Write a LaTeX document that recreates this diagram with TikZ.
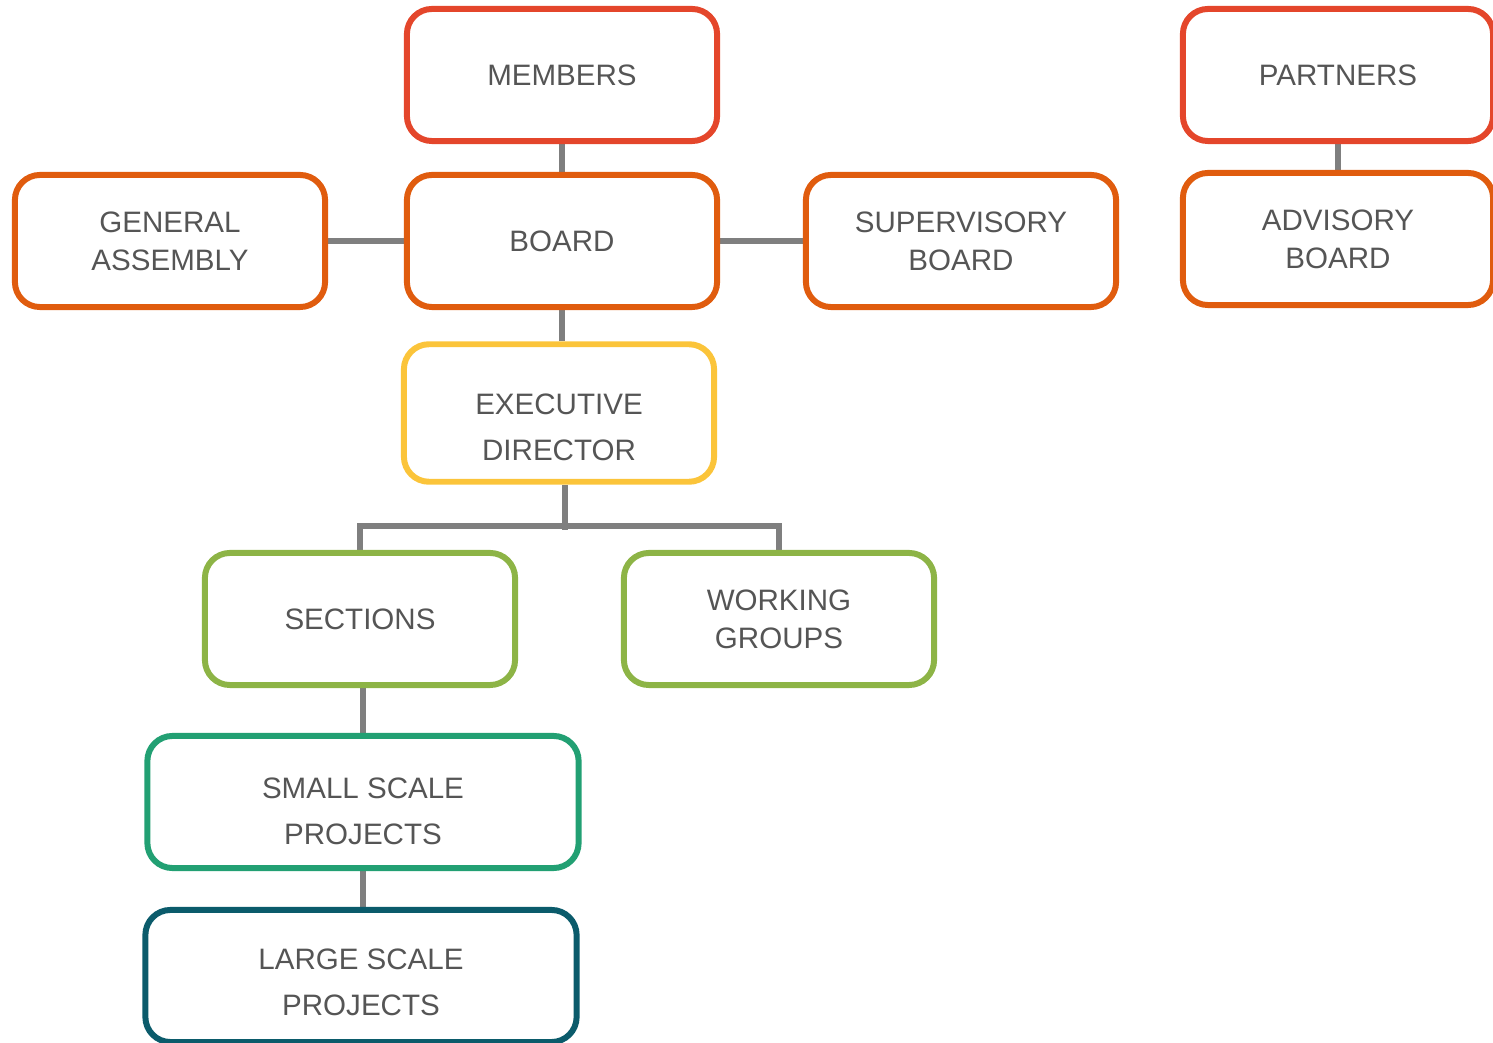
\documentclass[tikz,border=0pt]{standalone}
\usepackage{fontspec}
\setmainfont{Liberation Sans}
\usepackage{tikz}
\usetikzlibrary{backgrounds}
\definecolor{topred}{HTML}{E4462B}
\definecolor{boardorange}{HTML}{E05C0E}
\definecolor{execyellow}{HTML}{FBC43A}
\definecolor{unitgreen}{HTML}{8DB446}
\definecolor{smallgreen}{HTML}{22A073}
\definecolor{largeteal}{HTML}{0B5B6B}
\definecolor{linkgray}{HTML}{7F7F7F}
\definecolor{txtgray}{HTML}{555555}

\begin{document}
\begin{tikzpicture}[x=0.01cm,y=-0.01cm,
  unit/.style={draw=#1,line width=1.7pt,rounded corners=0.25cm,fill=white,
    minimum width=3.1cm,minimum height=1.32cm,align=center,text=txtgray,
    font=\fontsize{8.4}{10.8}\selectfont},
  wide/.style={minimum width=4.31cm},
  loose/.style={font=\fontsize{8.4}{13}\selectfont,text depth=0.1cm,text height=#1},
  link/.style={draw=linkgray,line width=1.7pt}]
\useasboundingbox (0,0) rectangle (1493,1043);
\node [unit=topred] (members) at (562,75) {MEMBERS};
\node [unit=topred] (partners) at (1338,75) {PARTNERS};
\node [unit=boardorange] (assembly) at (170,241) {GENERAL\\ASSEMBLY};
\node [unit=boardorange] (board) at (562,241) {BOARD};
\node [unit=boardorange] (supervisory) at (961,241) {SUPERVISORY\\BOARD};
\node [unit=boardorange] (advisory) at (1338,239) {ADVISORY\\BOARD};
\node [unit=execyellow,loose=1.04cm] (exec) at (559,413) {EXECUTIVE\\DIRECTOR};
\node [unit=unitgreen] (sections) at (360,619) {SECTIONS};
\node [unit=unitgreen] (working) at (779,619) {WORKING\\GROUPS};
\node [unit=smallgreen,wide,loose=0.94cm] (small) at (363,802) {SMALL SCALE\\PROJECTS};
\node [unit=largeteal,wide,loose=0.88cm] (large) at (361,976) {LARGE SCALE\\PROJECTS};
\coordinate (fork) at (565,526);
\begin{scope}[on background layer]
\draw [link] (members) -- (board);
\draw [link] (assembly) -- (board);
\draw [link] (board) -- (supervisory);
\draw [link] (partners) -- (advisory);
\draw [link] (board.south) -- (board.south |- exec.north);
\draw [link] (exec.south -| fork) -- ([yshift=-0.04cm]fork);
\draw [link] (sections.north) |- (fork) -| (working.north);
\draw [link] (sections.south -| small) -- (small.north);
\draw [link] (small.south) -- (small.south |- large.north);
\end{scope}
\end{tikzpicture}
\end{document}
